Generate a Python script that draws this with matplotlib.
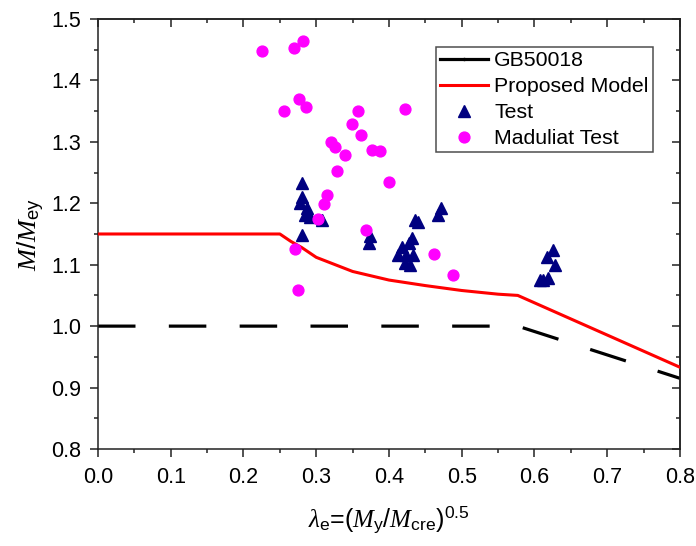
import numpy as np
import matplotlib
matplotlib.use("Agg")
import matplotlib.pyplot as plt
from matplotlib.lines import Line2D
from matplotlib.ticker import MultipleLocator, NullFormatter

plt.rcParams['font.family'] = ['Liberation Sans', 'DejaVu Sans']
plt.rcParams['mathtext.fontset'] = 'custom'
plt.rcParams['mathtext.rm'] = 'Liberation Sans'
plt.rcParams['mathtext.it'] = 'Liberation Serif:italic'
plt.rcParams['lines.scale_dashes'] = False

# GB50018 Kurve
gb_x = [0.0, 0.577, 0.8]
gb_y = [1.0, 1.0, 0.915]

# vorgeschlagenes Modell
model_x = [0.0, 0.25, 0.265, 0.28, 0.30, 0.35, 0.40, 0.45, 0.50, 0.55, 0.577, 0.8]
model_y = [1.15, 1.15, 1.138, 1.128, 1.112, 1.089, 1.075, 1.066, 1.058, 1.052, 1.05, 0.933]

# eigene Versuche
test_x = [0.281, 0.280, 0.278, 0.287, 0.285, 0.291, 0.308, 0.281,
          0.374, 0.373, 0.436, 0.440, 0.472, 0.468,
          0.431, 0.427, 0.418, 0.413, 0.424, 0.433, 0.422, 0.429,
          0.626, 0.617, 0.628, 0.612, 0.619, 0.608]
test_y = [1.233, 1.211, 1.200, 1.192, 1.181, 1.178, 1.173, 1.148,
          1.146, 1.135, 1.173, 1.170, 1.192, 1.181,
          1.143, 1.135, 1.129, 1.116, 1.116, 1.116, 1.102, 1.099,
          1.124, 1.113, 1.099, 1.075, 1.078, 1.075]

# Maduliat Versuche
mad_x = [0.226, 0.269, 0.282, 0.255, 0.276, 0.286, 0.358, 0.422, 0.349,
         0.361, 0.320, 0.326, 0.340, 0.376, 0.388, 0.328, 0.400, 0.315,
         0.311, 0.302, 0.368, 0.271, 0.462, 0.488, 0.275]
mad_y = [1.448, 1.452, 1.464, 1.351, 1.369, 1.356, 1.351, 1.353, 1.329,
         1.311, 1.299, 1.292, 1.279, 1.286, 1.285, 1.253, 1.234, 1.214,
         1.199, 1.174, 1.156, 1.126, 1.118, 1.084, 1.059]

fig = plt.figure(figsize=(6.96, 5.46), dpi=100)
ax = fig.add_axes([0.1408, 0.1777, 0.8362, 0.7875])

ax.plot(gb_x, gb_y, color='black', lw=2.3, dashes=(27, 24), zorder=2)
ax.plot(model_x, model_y, color='#ff0000', lw=2.2, zorder=3)
ax.plot(test_x, test_y, '^', color='#000080', ms=8.5, mec='#000080', zorder=4)
ax.plot(mad_x, mad_y, 'o', color='#ff00ff', ms=7.8, mec='#ff00ff', zorder=5)

ax.set_xlim(0, 0.8)
ax.set_ylim(0.8, 1.5)
ax.xaxis.set_major_locator(MultipleLocator(0.1))
ax.xaxis.set_minor_locator(MultipleLocator(0.05))
ax.yaxis.set_major_locator(MultipleLocator(0.1))
ax.yaxis.set_minor_locator(MultipleLocator(0.05))
ax.xaxis.set_major_formatter(plt.FormatStrFormatter('%.1f'))
ax.yaxis.set_major_formatter(plt.FormatStrFormatter('%.1f'))

for s in ax.spines.values():
    s.set_linewidth(1.1)
    s.set_color('#222222')
ax.tick_params(which='both', direction='out', width=1.1, color='#222222',
               labelsize=15.5, top=False, right=False)
ax.tick_params(which='major', length=6)
ax.tick_params(which='minor', length=3)
ax.tick_params(axis='y', pad=6)
ax.tick_params(axis='x', pad=7)

# Ticks oben und rechts nach innen
top = ax.secondary_xaxis('top')
top.xaxis.set_major_locator(MultipleLocator(0.1))
top.xaxis.set_minor_locator(MultipleLocator(0.05))
top.xaxis.set_major_formatter(NullFormatter())
right = ax.secondary_yaxis('right')
right.yaxis.set_major_locator(MultipleLocator(0.1))
right.yaxis.set_minor_locator(MultipleLocator(0.05))
right.yaxis.set_major_formatter(NullFormatter())
for sax in (top, right):
    sax.tick_params(which='both', direction='in', width=1.1, color='#222222')
    sax.tick_params(which='major', length=6)
    sax.tick_params(which='minor', length=3)
    for s in sax.spines.values():
        s.set_linewidth(1.1)
        s.set_color('#222222')

ax.set_xlabel(r'$\lambda_{\rm e}$=($M_{\rm y}$/$M_{\rm cre}$)$^{0.5}$', fontsize=18, labelpad=12)
ax.set_ylabel(r'$M$/$M_{\rm ey}$', fontsize=19, labelpad=3)

handles = [
    Line2D([], [], color='black', lw=2.3, marker='.', ms=3),
    Line2D([], [], color='#ff0000', lw=2.2),
    Line2D([], [], ls='none', marker='^', color='#000080', ms=8.5),
    Line2D([], [], ls='none', marker='o', color='#ff00ff', ms=7.8),
]
labels = ['GB50018', 'Proposed Model', 'Test', 'Maduliat Test']
leg = ax.legend(handles, labels, loc='upper right', bbox_to_anchor=(0.9536, 0.9356),
                borderaxespad=0, fontsize=15.3, frameon=True, fancybox=False,
                borderpad=0.2, labelspacing=0.33, handlelength=2.25,
                handletextpad=0.3)
leg.get_frame().set_edgecolor('#222222')
leg.get_frame().set_linewidth(1.1)
leg.set_zorder(10)

fig.savefig('out.png', dpi=100)
